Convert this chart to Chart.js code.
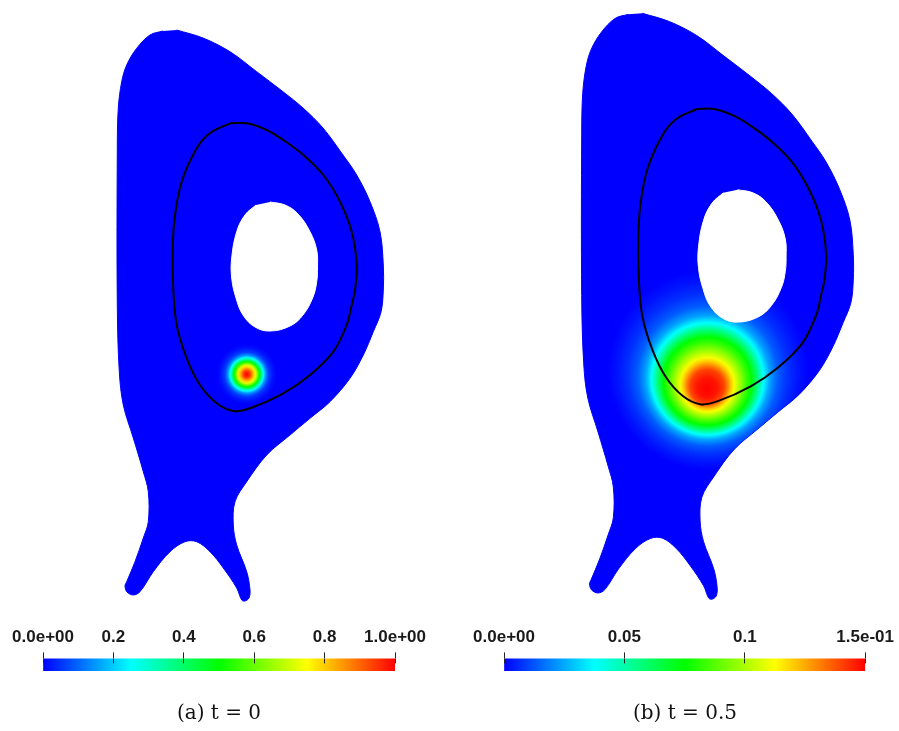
<!DOCTYPE html>
<html>
<head>
<meta charset="utf-8">
<script src="https://cdn.jsdelivr.net/npm/chart.js@4/dist/chart.umd.min.js"></script>
<style>
  html, body { margin: 0; padding: 0; background: #ffffff; }
  body { width: 899px; height: 731px; position: relative; overflow: hidden; }
  canvas { position: absolute; }
</style>
</head>
<body>
<canvas id="fieldA" width="300" height="620" style="left:100px;top:0px"></canvas>
<canvas id="fieldB" width="300" height="620" style="left:560px;top:0px"></canvas>
<canvas id="barA" width="450" height="131" style="left:0px;top:600px"></canvas>
<canvas id="barB" width="449" height="131" style="left:450px;top:600px"></canvas>
<script>
// ---- geometry of the computational domain (R, Z) ----
const domainR = [0.767, 1.03, 1.30, 1.567, 1.83, 2.03, 2.23, 2.43, 2.567, 2.70, 2.80, 2.833, 2.833, 2.81,
  2.733, 2.633, 2.50, 2.30, 2.10, 1.90, 1.667, 1.467, 1.35, 1.333, 1.367, 1.467, 1.50, 1.49, 1.45, 1.417,
  1.367, 1.233, 1.10, 0.967, 0.85, 0.70, 0.533, 0.40, 0.333, 0.27, 0.25, 0.267, 0.35, 0.433, 0.483, 0.483,
  0.433, 0.333, 0.233, 0.193, 0.173, 0.173, 0.183, 0.217, 0.267, 0.367, 0.50, 0.63];
const domainZ = [2.90, 2.82, 2.683, 2.483, 2.283, 2.12, 1.92, 1.65, 1.45, 1.183, 0.883, 0.55, 0.30, 0.08,
  -0.117, -0.35, -0.583, -0.817, -0.983, -1.15, -1.35, -1.617, -1.817, -2.05, -2.25, -2.517, -2.70, -2.78, -2.81, -2.80,
  -2.68, -2.48, -2.317, -2.217, -2.217, -2.317, -2.517, -2.717, -2.75, -2.72, -2.66, -2.617, -2.417, -2.18, -2.017, -1.717,
  -1.517, -1.18, -0.85, -0.517, 0.15, 1.72, 2.12, 2.383, 2.55, 2.717, 2.85, 2.89];

// central hole (excluded region)
const holeR = [1.70, 1.85, 1.98, 2.10, 2.167, 2.175, 2.167, 2.13, 2.03, 1.90, 1.70, 1.55, 1.43, 1.36, 1.317, 1.317, 1.367, 1.45, 1.56];
const holeZ = [1.18, 1.15, 1.06, 0.883, 0.70, 0.52, 0.383, 0.23, 0.05, -0.06, -0.11, -0.07, 0.05, 0.22, 0.42, 0.62, 0.883, 1.05, 1.15];

// separatrix contour
const sepR = [1.30, 1.467, 1.667, 1.833, 2.033, 2.233, 2.40, 2.517, 2.567, 2.55, 2.517, 2.467, 2.333, 2.10, 1.833,
  1.50, 1.333, 1.167, 1.00, 0.867, 0.767, 0.733, 0.727, 0.75, 0.817, 0.967, 1.10, 1.30];
const sepZ = [1.967, 1.967, 1.90, 1.80, 1.65, 1.45, 1.183, 0.883, 0.55, 0.30, 0.15, -0.05, -0.317, -0.55, -0.733,
  -0.883, -0.91, -0.833, -0.65, -0.383, -0.05, 0.30, 0.717, 1.05, 1.383, 1.717, 1.87, 1.967];

// ---- field at t = 0 : peak position and radial levels ----
const peakA = [1.467, -0.543];
const radiusA = [0, 0.03, 0.05, 0.07, 0.09, 0.11, 0.127, 0.145, 0.167, 0.19, 0.22, 0.26, 0.30];
const levelA = [1.0, 0.95, 0.88, 0.80, 0.72, 0.60, 0.50, 0.38, 0.25, 0.14, 0.06, 0.02, 0.0];

// ---- field at t = 0.5 : peak, centre of spread, radial levels ----
const peakB = [1.400, -0.772];
const spreadB = [1.410, -0.577];
const radiusB = [0, 0.098, 0.167, 0.196, 0.235, 0.265, 0.323, 0.382, 0.431, 0.49, 0.549, 0.608, 0.686, 0.784, 0.882, 0.98];
const levelB = [0.15, 0.147, 0.140, 0.132, 0.120, 0.111, 0.0975, 0.084, 0.075, 0.057, 0.0375, 0.024, 0.0135, 0.007, 0.003, 0.0];

// ---- colour scales ----
const rangeA = [0, 1];
const rangeB = [0, 0.15];
const ticksA = [0, 0.2, 0.4, 0.6, 0.8, 1.0];
const tickLabelsA = ['0.0e+00', '0.2', '0.4', '0.6', '0.8', '1.0e+00'];
const ticksB = [0, 0.05, 0.1, 0.15];
const tickLabelsB = ['0.0e+00', '0.05', '0.1', '1.5e-01'];

// blue -> cyan -> green -> yellow -> red
const cmapPos = [0, 0.25, 0.5, 0.75, 1];
const cmapRGB = [[0, 0, 255], [0, 255, 255], [0, 255, 0], [255, 255, 0], [255, 0, 0]];

function cmap(t) {
  t = Math.min(1, Math.max(0, t));
  for (let i = 1; i < cmapPos.length; i++) {
    if (t <= cmapPos[i]) {
      const f = (t - cmapPos[i - 1]) / (cmapPos[i] - cmapPos[i - 1]);
      const a = cmapRGB[i - 1], b = cmapRGB[i];
      const c = a.map((v, k) => Math.round(v + (b[k] - v) * f));
      return 'rgb(' + c.join(',') + ')';
    }
  }
  return 'rgb(' + cmapRGB[cmapRGB.length - 1].join(',') + ')';
}

const pts = (R, Z) => R.map((r, i) => ({ x: r, y: Z[i] }));
const finite = (...v) => v.every(Number.isFinite);

// restrict the field drawing to the inside of the domain outline
const domainClip = {
  id: 'domainClip',
  beforeDatasetDraw(chart, args) {
    if (!chart.data.datasets[args.index].clipToDomain) return;
    const ctx = chart.ctx;
    const meta = chart.getDatasetMeta(0);
    ctx.save();
    ctx.beginPath();
    let ok = false;
    try { meta.dataset.path(ctx); ok = true; } catch (e) { ok = false; }
    if (!ok) {
      ctx.beginPath();
      meta.data.forEach((p, i) => (i ? ctx.lineTo(p.x, p.y) : ctx.moveTo(p.x, p.y)));
    }
    ctx.closePath();
    ctx.clip();
  },
  afterDatasetDraw(chart, args) {
    if (chart.data.datasets[args.index].clipToDomain) chart.ctx.restore();
  }
};

function fieldChart(id, xRange, yRange, peak, centre, radii, levels, range) {
  const outer = radii[radii.length - 1];
  new Chart(document.getElementById(id), {
    type: 'scatter',
    data: {
      datasets: [
        { data: pts(domainR, domainZ), showLine: true, fill: 'shape', backgroundColor: '#0000ff',
          borderColor: '#0000ff', borderWidth: 1, pointRadius: 0, tension: 0.35, order: 4 },
        { data: [{ x: centre[0], y: centre[1] }], clipToDomain: true, order: 3, pointBorderWidth: 0,
          pointRadius: (ctx) => {
            const xs = ctx.chart.scales.x;
            if (!xs) return 0;
            const r = Math.abs(xs.getPixelForValue(centre[0] + outer) - xs.getPixelForValue(centre[0]));
            return Number.isFinite(r) ? r : 0;
          },
          pointBackgroundColor: (ctx) => {
            const c = ctx.chart, xs = c.scales.x, ys = c.scales.y;
            if (!xs || !ys) return '#0000ff';
            const x0 = xs.getPixelForValue(peak[0]), y0 = ys.getPixelForValue(peak[1]);
            const x1 = xs.getPixelForValue(centre[0]), y1 = ys.getPixelForValue(centre[1]);
            const r1 = Math.abs(xs.getPixelForValue(centre[0] + outer) - x1);
            if (!finite(x0, y0, x1, y1, r1) || r1 <= 0) return '#0000ff';
            const g = c.ctx.createRadialGradient(x0, y0, 0, x1, y1, r1);
            radii.forEach((r, i) => g.addColorStop(r / outer, cmap((levels[i] - range[0]) / (range[1] - range[0]))));
            return g;
          } },
        { data: pts(holeR, holeZ), showLine: true, fill: 'shape', backgroundColor: '#ffffff',
          borderColor: '#ffffff', borderWidth: 1, pointRadius: 0, tension: 0.4, order: 2 },
        { data: pts(sepR, sepZ), showLine: true, fill: false, borderColor: '#000000',
          borderWidth: 2, pointRadius: 0, tension: 0.35, order: 1 }
      ]
    },
    options: {
      responsive: false, animation: false, events: [],
      layout: { padding: 0 },
      scales: {
        x: { type: 'linear', display: false, min: xRange[0], max: xRange[1] },
        y: { type: 'linear', display: false, min: yRange[0], max: yRange[1] }
      },
      plugins: { legend: { display: false }, tooltip: { enabled: false } }
    },
    plugins: [domainClip]
  });
}

// short tick marks reaching into the colour bar
const tickExtend = {
  id: 'tickExtend',
  afterDatasetsDraw(chart) {
    const { ctx, chartArea, scales: { x } } = chart;
    ctx.save();
    ctx.strokeStyle = '#222222';
    ctx.lineWidth = 1;
    x.ticks.forEach((t) => {
      const px = Math.round(x.getPixelForValue(t.value) - 0.5) + 0.5;
      ctx.beginPath();
      ctx.moveTo(px, chartArea.top);
      ctx.lineTo(px, chartArea.top + 5);
      ctx.stroke();
    });
    ctx.restore();
  }
};

function colorBar(id, range, tickVals, tickLabels, caption, padL, padR) {
  new Chart(document.getElementById(id), {
    type: 'bar',
    data: {
      labels: [''],
      datasets: [{
        data: [range], borderWidth: 0, barPercentage: 1, categoryPercentage: 1,
        backgroundColor: (ctx) => {
          const area = ctx.chart.chartArea;
          if (!area || !finite(area.left, area.right)) return '#0000ff';
          const g = ctx.chart.ctx.createLinearGradient(area.left, 0, area.right, 0);
          cmapPos.forEach((p) => g.addColorStop(p, cmap(p)));
          return g;
        }
      }]
    },
    options: {
      indexAxis: 'y', responsive: false, animation: false, events: [],
      layout: { padding: { left: padL, right: padR, top: 22, bottom: 0 } },
      scales: {
        x: {
          type: 'linear', position: 'top', min: range[0], max: range[1],
          afterBuildTicks: (s) => { s.ticks = tickVals.map((v) => ({ value: v })); },
          ticks: {
            autoSkip: false, maxRotation: 0, padding: 5, color: '#1a1a1a',
            font: { family: "'Liberation Sans', Arial, sans-serif", weight: 'bold', size: 17 },
            callback: (v, i) => tickLabels[i]
          },
          grid: { drawOnChartArea: false, drawTicks: true, tickLength: 6, color: '#222222' },
          border: { display: false }
        },
        y: { display: false }
      },
      plugins: {
        legend: { display: false }, tooltip: { enabled: false },
        title: {
          display: true, text: caption, position: 'bottom', color: '#111111',
          font: { family: "'DejaVu Serif', serif", size: 20, weight: 'normal' },
          padding: { top: 31, bottom: 5 }
        }
      }
    },
    plugins: [tickExtend]
  });
}

fieldChart('fieldA', [0, 3], [-3.0, 3.2], peakA, peakA, radiusA, levelA, rangeA);
fieldChart('fieldB', [-0.0395, 2.899], [-3.0133, 3.0296], peakB, spreadB, radiusB, levelB, rangeB);
colorBar('barA', rangeA, ticksA, tickLabelsA, '(a) t = 0', 43, 55);
colorBar('barB', rangeB, ticksB, tickLabelsB, '(b) t = 0.5', 54, 33);
</script>
</body>
</html>
